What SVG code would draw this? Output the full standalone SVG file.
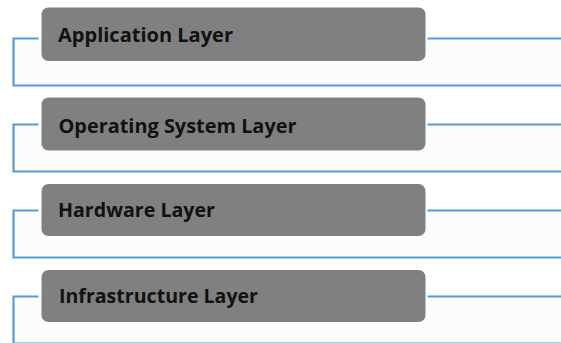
<svg xmlns="http://www.w3.org/2000/svg" width="561" height="343" viewBox="0 0 561 343">
  <style>
    .band { fill: #fcfcfc; }
    .conn { fill: none; stroke: #5b9bd5; stroke-width: 2.2; }
    .box { fill: #808080; }
    .lbl { font-family: "Open Sans", "Noto Sans", "Liberation Sans", sans-serif; font-weight: 700; font-size: 19px; fill: #111111; }
  </style>
  <rect width="561" height="343" fill="#ffffff"/>
  <g id="bands">
    <rect class="band" x="14" y="38.5" width="547" height="47"/>
    <rect class="band" x="14" y="124.5" width="547" height="47"/>
    <rect class="band" x="14" y="210.5" width="547" height="47"/>
    <rect class="band" x="14" y="296.5" width="547" height="47"/>
  </g>
  <g id="connectors">
    <path class="conn" d="M38.5 38.5 H13.5 V85.5 H561 M427.5 38.5 H561"/>
    <path class="conn" d="M38.5 124.5 H13.5 V171.5 H561 M427.5 124.5 H561"/>
    <path class="conn" d="M38.5 210.5 H13.5 V257.5 H561 M427.5 210.5 H561"/>
    <path class="conn" d="M38.5 296.5 H13.5 V343.5 H561 M427.5 296.5 H561"/>
  </g>
  <g id="application-layer">
    <rect class="box" x="41.5" y="7.5" width="384" height="53.5" rx="7"/>
    <text class="lbl" x="58" y="42" textLength="175" lengthAdjust="spacingAndGlyphs">Application Layer</text>
  </g>
  <g id="operating-system-layer">
    <rect class="box" x="41.5" y="97.5" width="384" height="53" rx="7"/>
    <text class="lbl" x="58.5" y="133" textLength="238" lengthAdjust="spacingAndGlyphs">Operating System Layer</text>
  </g>
  <g id="hardware-layer">
    <rect class="box" x="41.5" y="184" width="384" height="52" rx="7"/>
    <text class="lbl" x="58" y="217" textLength="157" lengthAdjust="spacingAndGlyphs">Hardware Layer</text>
  </g>
  <g id="infrastructure-layer">
    <rect class="box" x="41.5" y="270" width="384" height="52" rx="7"/>
    <text class="lbl" x="59" y="303" textLength="199" lengthAdjust="spacingAndGlyphs">Infrastructure Layer</text>
  </g>
</svg>
